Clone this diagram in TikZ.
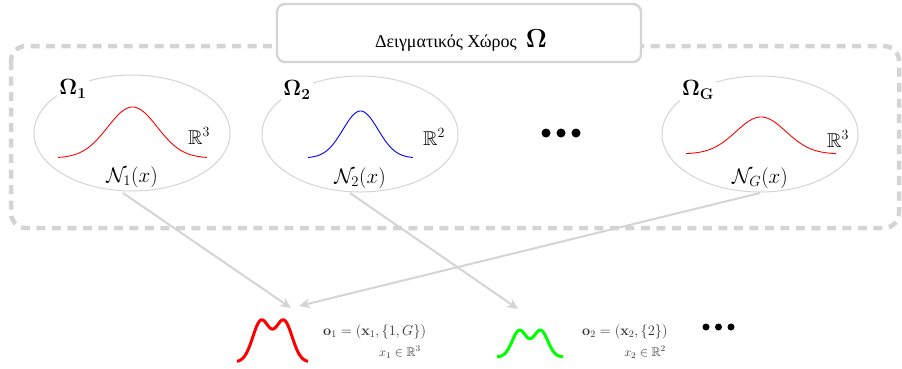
\RequirePackage{fix-cm}
\documentclass[tikz,border=0pt]{standalone}
\usepackage{amsmath,amssymb}
\usepackage[no-math]{fontspec}
\newfontfamily\greekfont{Liberation Serif}
\usetikzlibrary{shapes.geometric,arrows.meta}
\definecolor{lgray}{RGB}{212,212,212}
\tikzset{
  frame/.style={draw=lgray,line width=4.5pt,dash pattern=on 9pt off 6.5pt,rounded corners=15pt},
  titlebox/.style={draw=lgray,line width=2.3pt,fill=white,rounded corners=8pt,minimum width=364pt,minimum height=58pt},
  space/.style={ellipse,draw=lgray,line width=1pt,minimum width=196pt,minimum height=116pt},
  omlabel/.style={fill=white,inner sep=2pt,font=\fontsize{22}{25}\selectfont},
  rlabel/.style={font=\fontsize{20}{23}\selectfont,inner sep=0pt},
  nlabel/.style={font=\fontsize{21}{24}\selectfont,inner sep=0pt},
  gauss/.style={line width=0.9pt,smooth},
  bimodal/.style={line width=3pt,smooth},
  conn/.style={draw=lgray,line width=2pt,-{Stealth[length=11pt,width=10pt]}},
  obs/.style={font=\fontsize{14.4}{17}\selectfont,text=black!80,inner sep=0pt},
  obsb/.style={font=\fontsize{12.5}{15}\selectfont,text=black!80,inner sep=0pt},
  bigdot/.style={circle,fill=black,inner sep=0pt,minimum size=9pt},
  smalldot/.style={circle,fill=black,inner sep=0pt,minimum size=7pt}
}
\begin{document}
\begin{tikzpicture}[x=1pt,y=-1pt]
\useasboundingbox (0,0) rectangle (902,368);
% outer dashed frame
\draw[frame] (11,46) rectangle (899,228);
% title
\node[titlebox] (title) at (459,33) {};
\node (titletext) at (461,40) {{\greekfont\fontsize{18}{21}\selectfont Δειγματικός Χώρος}\hspace{9pt}{\fontsize{26}{30}\selectfont$\mathbf{\Omega}$}};
% ellipses
\node[space] (e1) at (132,133) {};
\node[space] (e2) at (360,134) {};
\node[space] (eG) at (760,134) {};
% omega labels
\node[omlabel] (o1) at (73,89) {$\mathbf{\Omega_1}$};
\node[omlabel] (o2) at (297,90) {$\mathbf{\Omega_2}$};
\node[omlabel] (oG) at (698,90) {$\mathbf{\Omega_G}$};
% gaussians
\draw[gauss,red] plot[domain=-3:3,samples=80] ({132.5+\x*24.8},{158-51*exp(-\x*\x/2)});
\draw[gauss,blue] plot[domain=-3:3,samples=80] ({360.5+\x*17.5},{158-47*exp(-\x*\x/2)});
\draw[gauss,red] plot[domain=-3:3,samples=80] ({761+\x*25},{154-37*exp(-\x*\x/2)});
% R labels
\node[rlabel] (r1) at (199,136) {$\mathbb{R}^3$};
\node[rlabel] (r2) at (434,137) {$\mathbb{R}^2$};
\node[rlabel] (rG) at (838,139) {$\mathbb{R}^3$};
% N labels
\node[nlabel] (n1) at (132,177) {$\mathcal{N}_1(x)$};
\node[nlabel] (n2) at (360,178) {$\mathcal{N}_2(x)$};
\node[nlabel] (nG) at (760,178) {$\mathcal{N}_G(x)$};
% dots
\node[bigdot] (d1) at (546,133) {};
\node[bigdot] (d2) at (561,133) {};
\node[bigdot] (d3) at (576,133) {};
% connectors
\coordinate (s1) at (123,193);
\coordinate (s2) at (350,193);
\coordinate (s3) at (760,193);
\coordinate (t1) at (291,308);
\coordinate (t2) at (518,309);
\coordinate (t3) at (299,306);
\draw[conn] (s1) -- (t1);
\draw[conn] (s2) -- (t2);
\draw[conn] (s3) -- (t3);
% bottom observations
\draw[bimodal,red] plot[domain=-2.5:2.5,samples=80] ({272.5+\x*14.2},{362-41*(exp(-(\x-0.8)*(\x-0.8)/0.7)+exp(-(\x+0.8)*(\x+0.8)/0.7))});
\draw[bimodal,green] plot[domain=-2.5:2.5,samples=80] ({530+\x*13.2},{357-26.5*(exp(-(\x-0.8)*(\x-0.8)/0.6)+exp(-(\x+0.8)*(\x+0.8)/0.6))});
\node[obs,anchor=west] (ob1) at (323,332) {$\mathbf{o}_1=(\mathbf{x}_1,\{1,G\})$};
\node[obsb,anchor=east] (ob1b) at (421,352) {$x_1\in\mathbb{R}^3$};
\node[obs,anchor=west] (ob2) at (582,332) {$\mathbf{o}_2=(\mathbf{x}_2,\{2\})$};
\node[obsb,anchor=east] (ob2b) at (666,352) {$x_2\in\mathbb{R}^2$};
\node[smalldot] (b1) at (706,327) {};
\node[smalldot] (b2) at (718.5,327) {};
\node[smalldot] (b3) at (731,327) {};
\end{tikzpicture}
\end{document}
